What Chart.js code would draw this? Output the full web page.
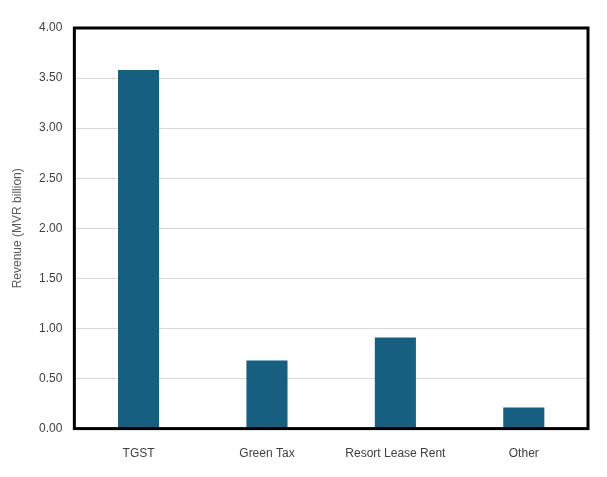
<!DOCTYPE html>
<html>
<head>
<script src="https://cdn.jsdelivr.net/npm/chart.js@4"></script>
<style>
  html, body { margin: 0; padding: 0; background: #fff; }
  #wrap { width: 607px; height: 477px; }
</style>
</head>
<body>
<div id="wrap"><canvas id="myChart"></canvas></div>
<script>
var categories = ['TGST', 'Green Tax', 'Resort Lease Rent', 'Other'];
var revenue = [3.58, 0.68, 0.91, 0.21];

// thick black frame around the plot area
var frame = {
  id: 'frame',
  afterDraw: function(chart) {
    var a = chart.chartArea, ctx = chart.ctx;
    ctx.save();
    ctx.strokeStyle = '#000';
    ctx.lineWidth = 3;
    ctx.strokeRect(a.left, a.top, a.right - a.left, a.bottom - a.top);
    ctx.restore();
  }
};

new Chart(document.getElementById('myChart'), {
  type: 'bar',
  data: {
    labels: categories,
    datasets: [{
      data: revenue,
      backgroundColor: '#175f80',
      barPercentage: 0.32,
      categoryPercentage: 1
    }]
  },
  options: {
    responsive: true,
    maintainAspectRatio: false,
    animation: false,
    layout: { padding: { top: 28, right: 19, left: 27, bottom: 6 } },
    plugins: { legend: { display: false }, tooltip: { enabled: false } },
    scales: {
      x: {
        grid: { display: false },
        border: { display: false },
        ticks: { padding: 10, color: '#404040', font: { family: 'Liberation Sans', size: 12 } }
      },
      y: {
        min: 0,
        max: 4,
        ticks: {
          stepSize: 0.5,
          padding: 12,
          color: '#404040',
          font: { family: 'Liberation Sans', size: 12 },
          callback: function(v) { return v.toFixed(2); }
        },
        grid: { color: '#d9d9d9', drawTicks: false },
        border: { display: false },
        title: {
          display: false
        }
      }
    }
  },
  plugins: [frame, {
    id: 'ytitle',
    afterDraw: function(chart) {
      var a = chart.chartArea, ctx = chart.ctx;
      ctx.save();
      ctx.translate(18, (a.top + a.bottom) / 2);
      ctx.rotate(-Math.PI / 2);
      ctx.textAlign = 'center';
      ctx.textBaseline = 'middle';
      ctx.fillStyle = '#595959';
      ctx.font = '12px "Liberation Sans"';
      ctx.fillText('Revenue (MVR billion)', 0, 0);
      ctx.restore();
    }
  }]
});
</script>
</body>
</html>
